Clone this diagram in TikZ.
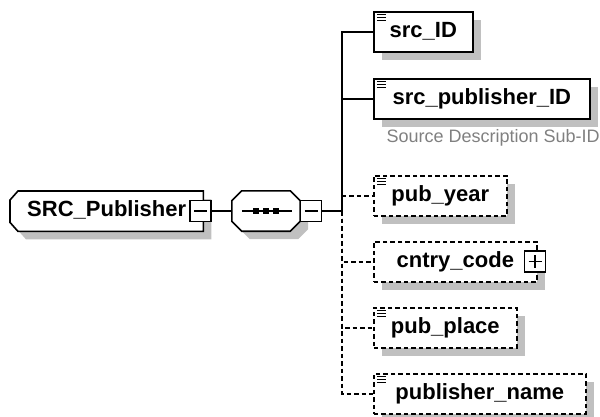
\documentclass[tikz,border=0pt]{standalone}
\usepackage{fontspec}
\setmainfont{Liberation Sans}
\usetikzlibrary{shadows,backgrounds}
\definecolor{shadowgray}{RGB}{192,192,192}
\definecolor{notegray}{RGB}{128,128,128}

\begin{document}
\begin{tikzpicture}[x=1pt, y=-1pt,
        shade box/.style={drop shadow={shadow xshift=8pt, shadow yshift=-8pt,
            fill=shadowgray, opacity=1}},
        label font/.style={font=\fontsize{22}{26}\selectfont\bfseries,
            text height=16pt, text depth=5pt},
        elem/.style={draw, line width=1.6pt, fill=white, shade box, label font,
            minimum height=40pt, inner sep=0pt, anchor=north west},
        optional/.style={dash pattern=on 4.5pt off 3pt},
        simple/.style={path picture={
            \foreach \d in {3,6,9}
                \draw[line width=0.9pt, solid]
                    ([xshift=3pt, yshift=-\d pt]path picture bounding box.north west)
                    -- ++(9pt,0);}},
        toggle/.style={draw, solid, line width=1.3pt, fill=white,
            minimum size=21pt, inner sep=0pt},
        minusbox/.style={toggle, path picture={
            \draw[line width=1.2pt] ([xshift=4pt]path picture bounding box.west)
                -- ([xshift=-4pt]path picture bounding box.east);}},
        plusbox/.style={toggle, path picture={
            \draw[line width=1.2pt] ([xshift=4pt]path picture bounding box.west)
                -- ([xshift=-4pt]path picture bounding box.east);
            \draw[line width=1.2pt] ([yshift=-4pt]path picture bounding box.north)
                -- ([yshift=4pt]path picture bounding box.south);}},
        shadow move/.style={transform canvas={shift={(8pt,-8pt)}}},
        conn/.style={line width=1.5pt}
    ]
    \useasboundingbox (0,0) rectangle (600,416);

    % parent element
    \node[label font, minimum width=193pt, minimum height=40pt, inner sep=0pt,
        anchor=north west] (srcPub) at (10,191) {SRC\_Publisher\hspace{18pt}};
    \begin{scope}[on background layer]
        \fill[shadowgray, shadow move] ([xshift=8pt]srcPub.north west) -- (srcPub.north east)
            -- (srcPub.south east) -- ([xshift=8pt]srcPub.south west)
            -- ([yshift=9pt]srcPub.south west) -- ([yshift=-9pt]srcPub.north west) -- cycle;
        \draw[line width=1.6pt, fill=white] ([xshift=8pt]srcPub.north west) -- (srcPub.north east)
            -- (srcPub.south east) -- ([xshift=8pt]srcPub.south west)
            -- ([yshift=9pt]srcPub.south west) -- ([yshift=-9pt]srcPub.north west) -- cycle;
    \end{scope}
    \node[minusbox] (srcPubMinus) at (200.5,211) {};

    % sequence
    \node[minimum width=68pt, minimum height=40pt, inner sep=0pt] (seq) at (266,211) {};
    \begin{scope}[on background layer]
        \fill[shadowgray, shadow move] ([xshift=10pt]seq.north west) -- ([xshift=-10pt]seq.north east)
            -- ([yshift=-10pt]seq.north east) -- ([yshift=10pt]seq.south east)
            -- ([xshift=-10pt]seq.south east) -- ([xshift=10pt]seq.south west)
            -- ([yshift=10pt]seq.south west) -- ([yshift=-10pt]seq.north west) -- cycle;
        \draw[line width=1.6pt, fill=white] ([xshift=10pt]seq.north west) -- ([xshift=-10pt]seq.north east)
            -- ([yshift=-10pt]seq.north east) -- ([yshift=10pt]seq.south east)
            -- ([xshift=-10pt]seq.south east) -- ([xshift=10pt]seq.south west)
            -- ([yshift=10pt]seq.south west) -- ([yshift=-10pt]seq.north west) -- cycle;
    \end{scope}
    \draw[line width=1.2pt] ([xshift=10pt]seq.west) -- ([xshift=-8pt]seq.east);
    \foreach \dx in {-10,0,10}
        \fill ([xshift=\dx pt]seq.center) +(-2.8,-2.8) rectangle +(2.8,2.8);
    \node[minusbox] (seqMinus) at (311,211) {};

    % child elements
    \node[elem, simple, minimum width=99pt] (srcId) at (373,11) {src\_ID};
    \node[elem, simple, minimum width=216pt] (srcPubId) at (373,78) {src\_publisher\_ID};
    \node[anchor=base west, text=notegray, font=\fontsize{18}{22}\selectfont]
        (srcPubNote) at (383,142) {Source Description Sub-ID};
    \node[elem, simple, optional, minimum width=133pt] (pubYear) at (373,175) {pub\_year};
    \node[elem, optional, minimum width=163pt] (cntryCode) at (373,241)
        {cntry\_code\hspace{10pt}};
    \node[plusbox] (cntryPlus) at (535,261.5) {};
    \node[elem, simple, optional, minimum width=143pt] (pubPlace) at (373,307) {pub\_place};
    \node[elem, simple, optional, minimum width=212pt] (pubName) at (373,373) {publisher\_name};

    % connectors
    \coordinate (spine) at (342,211);
    \draw[conn] (srcPubMinus.east) -- (seq.west);
    \draw[conn] (seqMinus.east) -- (spine);
    \draw[conn] (spine) |- (srcId.west);
    \draw[conn] (spine) |- (srcPubId.west);
    \draw[conn, optional] (spine) |- (pubYear.west);
    \draw[conn, optional] (spine) |- (cntryCode.west);
    \draw[conn, optional] (spine) |- (pubPlace.west);
    \draw[conn, optional] (spine) |- (pubName.west);
\end{tikzpicture}
\end{document}
